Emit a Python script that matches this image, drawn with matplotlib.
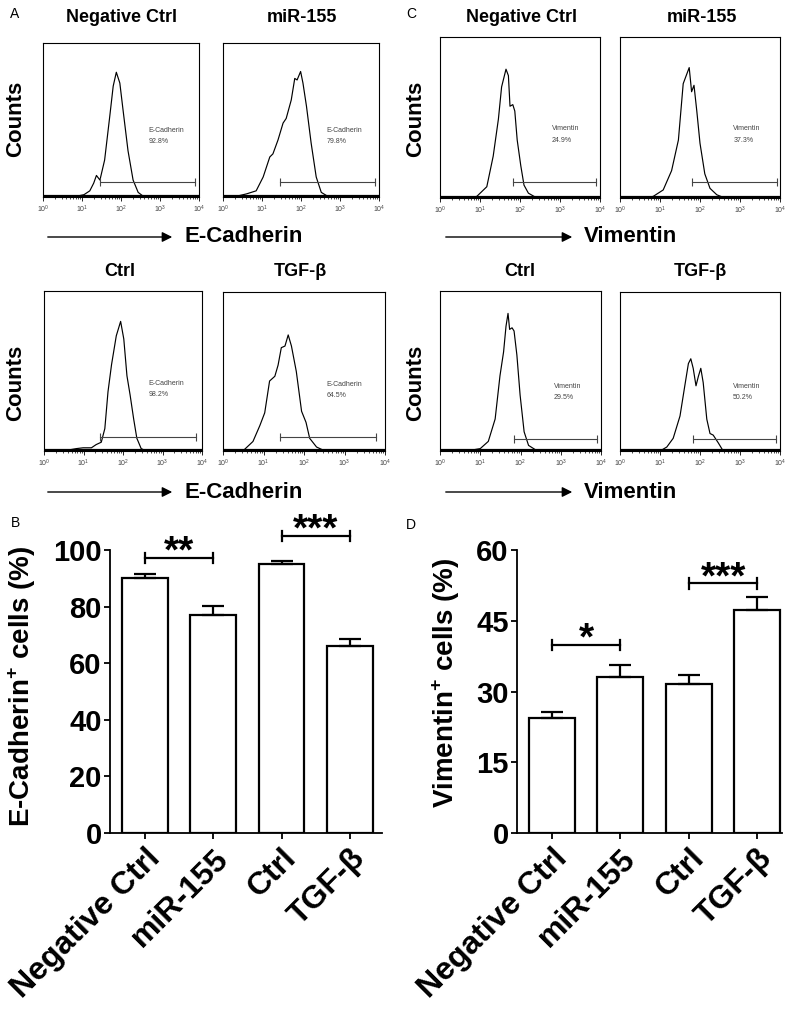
import numpy as np
import matplotlib
matplotlib.use("Agg")
import matplotlib.pyplot as plt
from matplotlib.transforms import ScaledTranslation

plt.rcParams['font.family'] = ['Liberation Sans', 'DejaVu Sans']
plt.rcParams['mathtext.fontset'] = 'custom'
plt.rcParams['mathtext.rm'] = 'Liberation Sans'
plt.rcParams['mathtext.bf'] = 'Liberation Sans:bold'

W, H = 800, 1021

# ---- flow histograms: log10 intensity, relative count (box height = 1)
ecad_neg_x = [0.0, 0.7, 0.86, 1.05, 1.2, 1.3, 1.37, 1.46, 1.58, 1.71, 1.8, 1.88,
              1.97, 2.05, 2.18, 2.31, 2.44, 2.57, 2.8, 4.0]
ecad_neg_y = [0, 0, 0.005, 0.015, 0.04, 0.09, 0.14, 0.11, 0.24, 0.52, 0.72, 0.81,
              0.74, 0.57, 0.30, 0.11, 0.03, 0.005, 0, 0]
ecad_mir_x = [0.0, 0.26, 0.6, 0.85, 1.03, 1.2, 1.28, 1.41, 1.54, 1.62, 1.75, 1.84,
              1.9, 1.99, 2.05, 2.14, 2.26, 2.39, 2.52, 2.69, 2.9, 4.0]
ecad_mir_y = [0, 0, 0.02, 0.04, 0.13, 0.26, 0.28, 0.37, 0.48, 0.51, 0.63, 0.77,
              0.76, 0.815, 0.74, 0.59, 0.35, 0.13, 0.03, 0.004, 0, 0]
ecad_ctrl_x = [0.0, 0.57, 0.82, 0.99, 1.2, 1.32, 1.45, 1.54, 1.62, 1.71, 1.83, 1.94,
               2.02, 2.1, 2.18, 2.27, 2.35, 2.46, 2.59, 4.0]
ecad_ctrl_y = [0, 0.004, 0.015, 0.02, 0.02, 0.04, 0.055, 0.14, 0.37, 0.54, 0.72, 0.81,
               0.70, 0.47, 0.35, 0.20, 0.08, 0.015, 0, 0]
ecad_tgf_x = [0.0, 0.49, 0.74, 0.91, 1.03, 1.15, 1.28, 1.36, 1.44, 1.53, 1.61, 1.69,
              1.81, 1.94, 2.05, 2.14, 2.31, 2.52, 4.0]
ecad_tgf_y = [0, 0, 0.06, 0.16, 0.24, 0.44, 0.47, 0.54, 0.65, 0.66, 0.73, 0.66,
              0.50, 0.25, 0.18, 0.08, 0.025, 0, 0]

vim_neg_x = [0.0, 0.7, 0.92, 1.17, 1.33, 1.46, 1.54, 1.65, 1.71, 1.75, 1.82, 1.87,
             1.93, 2.02, 2.1, 2.21, 2.38, 2.58, 4.0]
vim_neg_y = [0, 0, 0.01, 0.07, 0.26, 0.49, 0.69, 0.80, 0.76, 0.57, 0.58, 0.54,
             0.36, 0.20, 0.08, 0.03, 0.006, 0, 0]
vim_mir_x = [0.0, 0.6, 0.83, 1.08, 1.29, 1.46, 1.58, 1.67, 1.73, 1.79, 1.85, 1.92,
             2.0, 2.12, 2.25, 2.42, 2.62, 4.0]
vim_mir_y = [0, 0, 0.01, 0.05, 0.17, 0.36, 0.71, 0.77, 0.81, 0.66, 0.70, 0.54,
             0.34, 0.15, 0.06, 0.02, 0, 0]
vim_ctrl_x = [0.0, 0.66, 1.0, 1.2, 1.37, 1.49, 1.58, 1.64, 1.69, 1.73, 1.79, 1.84,
              1.91, 1.99, 2.09, 2.2, 2.37, 2.57, 4.0]
vim_ctrl_y = [0, 0, 0.015, 0.06, 0.20, 0.47, 0.62, 0.78, 0.86, 0.76, 0.77, 0.75,
              0.60, 0.35, 0.12, 0.035, 0.008, 0, 0]
vim_tgf_x = [0.0, 1.0, 1.17, 1.33, 1.5, 1.62, 1.71, 1.77, 1.83, 1.9, 1.96, 2.02,
             2.08, 2.17, 2.25, 2.33, 2.46, 2.58, 4.0]
vim_tgf_y = [0, 0, 0.025, 0.08, 0.22, 0.41, 0.55, 0.58, 0.52, 0.41, 0.47, 0.52,
             0.43, 0.20, 0.11, 0.10, 0.05, 0, 0]

hist_titles = ['Negative Ctrl', 'miR-155', 'Ctrl', 'TGF-β']
ecad_pct = ['92.8%', '79.8%', '98.2%', '64.5%']
vim_pct = ['24.9%', '37.3%', '29.5%', '50.2%']
# gate (log10 start, log10 end, height)
ecad_gates = [(1.46, 3.91, 0.10), (1.45, 3.91, 0.10), (1.43, 3.86, 0.09), (1.40, 3.77, 0.09)]
vim_gates = [(1.82, 3.90, 0.10), (1.81, 3.92, 0.10), (1.84, 3.90, 0.075), (1.82, 3.90, 0.075)]

# ---- bar charts
groups = ['Negative Ctrl', 'miR-155', 'Ctrl', 'TGF-β']
ecad_mean = [90.1, 76.9, 94.9, 66.1]
ecad_sem = [1.3, 3.3, 1.2, 2.4]
vim_mean = [24.4, 33.1, 31.6, 47.3]
vim_sem = [1.2, 2.5, 2.0, 2.8]
ecad_sig = [(0, 1, 97.3, '**'), (2, 3, 105.0, '***')]
vim_sig = [(0, 1, 39.9, '*'), (2, 3, 52.9, '***')]

fig = plt.figure(figsize=(W / 100, H / 100), dpi=100)


def px_axes(x0, y0, x1, y1):
    return fig.add_axes([x0 / W, 1 - y1 / H, (x1 - x0) / W, (y1 - y0) / H])


def fx(x):
    return x / W


def fy(y):
    return 1 - y / H


def hist_panel(box, xs, ys, gate, marker, pct, textx):
    ax = px_axes(*box)
    ax.plot(10 ** np.array(xs), ys, color='black', lw=0.85)
    ax.plot([1, 1e4], [0.004, 0.004], color='black', lw=1.6)
    ax.plot([10 ** gate[0], 10 ** gate[1]], [gate[2], gate[2]], color='#444444',
            lw=0.8, marker='|', ms=6, mew=0.8)
    ax.text(10 ** textx, gate[2] + 0.33, marker, fontsize=5, color='#444444', va='center')
    ax.text(10 ** textx, gate[2] + 0.26, pct, fontsize=5, color='#444444', va='center')
    ax.set_xscale('log')
    ax.set_xlim(1, 1e4)
    ax.set_ylim(0, 1)
    ax.set_yticks([])
    ax.tick_params(axis='x', which='major', length=3, width=0.6, labelsize=5,
                   labelcolor='#444444', pad=2)
    ax.tick_params(axis='x', which='minor', length=1.5, width=0.5)
    for s in ax.spines.values():
        s.set_linewidth(0.8)
    return ax


ecad_data = [(ecad_neg_x, ecad_neg_y), (ecad_mir_x, ecad_mir_y),
             (ecad_ctrl_x, ecad_ctrl_y), (ecad_tgf_x, ecad_tgf_y)]
vim_data = [(vim_neg_x, vim_neg_y), (vim_mir_x, vim_mir_y),
            (vim_ctrl_x, vim_ctrl_y), (vim_tgf_x, vim_tgf_y)]
ecad_boxes = [(43, 43, 199, 197), (223, 43, 379, 197), (44, 291, 202, 451), (223, 292, 385, 451)]
vim_boxes = [(440, 37, 600, 198), (620, 37, 780, 198), (440, 291, 601, 451), (620, 292, 780, 451)]
ecad_textx = [2.7, 2.65, 2.65, 2.56]
vim_textx = [2.79, 2.83, 2.82, 2.83]

for i in range(4):
    hist_panel(ecad_boxes[i], *ecad_data[i], ecad_gates[i], 'E-Cadherin', ecad_pct[i], ecad_textx[i])
    hist_panel(vim_boxes[i], *vim_data[i], vim_gates[i], 'Vimentin', vim_pct[i], vim_textx[i])

# titles over histograms
title_pos = [(122, 17), (302, 17), (120, 272), (300, 272)]
for i, (x, y) in enumerate(title_pos):
    fig.text(fx(x), fy(y), hist_titles[i], fontsize=13, fontweight='bold', ha='center', va='center')
    fig.text(fx(x + 400), fy(y), hist_titles[i], fontsize=13, fontweight='bold', ha='center', va='center')

for x in (16, 416):
    for y in (119, 383):
        fig.text(fx(x), fy(y), 'Counts', fontsize=16, fontweight='bold', rotation=90,
                 ha='center', va='center')

# arrows with marker name
for x0, x1, name in [(45, 175, 'E-Cadherin'), (443, 575, 'Vimentin')]:
    for y in (237, 492):
        fig.add_artist(matplotlib.patches.FancyArrowPatch(
            (fx(x0), fy(y)), (fx(x1), fy(y)), transform=fig.transFigure,
            arrowstyle='-|>,head_length=4,head_width=2', mutation_scale=1.5,
            color='black', lw=1.0))
        fig.text(fx(x1 + 9), fy(y), name, fontsize=16, fontweight='bold', ha='left', va='center')

for lab, x, y in [('A', 15, 14), ('C', 411, 14), ('B', 16, 523), ('D', 411, 525)]:
    fig.text(fx(x), fy(y), lab, fontsize=10, ha='center', va='center')


def bar_panel(box, means, sems, sig, ylim, yticks, ylabel, xmax, labx, laby, cap_h):
    ax = px_axes(*box)
    xs = np.arange(len(groups))
    ax.bar(xs, means, width=0.67, color='white', edgecolor='black', lw=1.6,
           yerr=[np.zeros(len(sems)), sems], capsize=8,
           error_kw=dict(elinewidth=1.6, capthick=1.6, ecolor='black'))
    for a, b, y, stars in sig:
        ax.plot([a, b], [y, y], color='black', lw=1.6, clip_on=False)
        ax.plot([a, a], [y - cap_h, y + cap_h], color='black', lw=1.6, clip_on=False)
        ax.plot([b, b], [y - cap_h, y + cap_h], color='black', lw=1.6, clip_on=False)
        ax.annotate(stars, xy=((a + b) / 2, y), xytext=(0, -3.5), textcoords='offset points',
                    ha='center', va='baseline', fontsize=28, fontweight='bold',
                    annotation_clip=False)
    ax.set_xlim(-0.51, xmax)
    ax.set_ylim(*ylim)
    ax.set_yticks(yticks)
    ax.set_xticks(xs)
    ax.set_xticklabels(groups, rotation=45, ha='right', va='top', rotation_mode='anchor',
                       fontsize=23, fontweight='bold')
    for lbl in ax.get_xticklabels():
        lbl.set_transform(lbl.get_transform() + ScaledTranslation(0.25, -0.1, fig.dpi_scale_trans))
    for lbl in ax.get_yticklabels():
        lbl.set_fontweight('bold')
    ax.tick_params(axis='y', labelsize=21, length=4, width=1.3, pad=2)
    ax.tick_params(axis='x', length=4, width=1.3)
    ax.spines['top'].set_visible(False)
    ax.spines['right'].set_visible(False)
    ax.spines['left'].set_linewidth(1.3)
    ax.spines['bottom'].set_linewidth(1.3)
    ax.set_ylabel(ylabel, fontsize=20, fontweight='bold')
    ax.yaxis.set_label_coords(labx, laby)
    return ax


bar_panel((110, 550, 382, 833), ecad_mean, ecad_sem, ecad_sig, (0, 100),
          [0, 20, 40, 60, 80, 100], r'E-Cadherin$^{\mathbf{+}}$ cells (%)', 3.47, -0.265, 0.52, 1.8)
bar_panel((517, 550, 782, 833), vim_mean, vim_sem, vim_sig, (0, 60),
          [0, 15, 30, 45, 60], r'Vimentin$^{\mathbf{+}}$ cells (%)', 3.36, -0.208, 0.53, 1.1)

fig.savefig('out.png', dpi=100)
